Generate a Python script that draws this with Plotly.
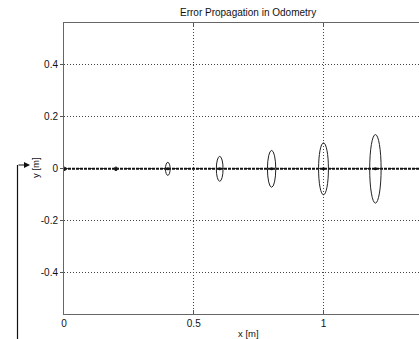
import plotly.graph_objects as go

# ---- data ----
ellipse_x = [0.0, 0.2, 0.4, 0.6, 0.8, 1.0, 1.2]          # ellipse centres (m)
ellipse_y = [0.0, 0.0, 0.0, 0.0, 0.0, 0.0, 0.0]
ellipse_sx = [0.008, 0.006, 0.009, 0.013, 0.016, 0.019, 0.022]  # semi-axis in x (m)
ellipse_sy = [0.007, 0.007, 0.025, 0.048, 0.071, 0.100, 0.132]  # semi-axis in y (m)
path_x = [0.0, 1.45]
path_y = [0.0, 0.0]
x_ticks = [0, 0.5, 1]
x_ticktext = ["0", "0.5", "1"]
y_ticks = [-0.4, -0.2, 0, 0.2, 0.4]
y_ticktext = ["-0.4", "-0.2", "0", "0.2", "0.4"]

W, H = 419, 339
L, T, B, R = 64, 23, 25, 0
pw, ph = W - L - R, H - T - B

def px(xp):  # pixel x -> paper x
    return (xp - L) / pw

def py(yp):  # pixel y -> paper y
    return (H - B - yp) / ph

fig = go.Figure()
fig.add_trace(go.Scatter(x=path_x, y=path_y, mode="lines",
                         line=dict(color="#111111", width=2, dash="3px,1px"),
                         hoverinfo="skip", showlegend=False))
fig.add_trace(go.Scatter(x=ellipse_x, y=ellipse_y, mode="markers",
                         marker=dict(color="#111111", size=3),
                         hoverinfo="skip", showlegend=False))

shapes = []
for cx, cy, sx, sy in zip(ellipse_x, ellipse_y, ellipse_sx, ellipse_sy):
    shapes.append(dict(type="circle", xref="x", yref="y",
                       x0=cx - sx, x1=cx + sx, y0=cy - sy, y1=cy + sy,
                       line=dict(color="#222222", width=1)))
# bracket line on the left
shapes.append(dict(type="line", xref="paper", yref="paper",
                   x0=px(17.5), x1=px(17.5), y0=py(165), y1=py(339),
                   line=dict(color="#111111", width=1.2)))

font = "Liberation Sans, Arial, sans-serif"
annotations = [
    dict(text="Error Propagation in Odometry", xref="paper", yref="paper",
         x=px(248), y=py(13), showarrow=False, xanchor="center", yanchor="middle",
         font=dict(size=10, color="#111111", family=font)),
    dict(text="x [m]", xref="paper", yref="paper", x=px(248), y=py(333.5),
         showarrow=False, xanchor="center", yanchor="middle",
         font=dict(size=9.5, color="#111111", family=font)),
    dict(text="y [m]", xref="paper", yref="paper", x=px(35), y=py(168),
         showarrow=False, textangle=-90, xanchor="center", yanchor="middle",
         font=dict(size=9.5, color="#111111", family=font)),
    dict(text="", xref="paper", yref="paper", x=px(30), y=py(165),
         ax=-13, ay=0, showarrow=True, arrowhead=2, arrowsize=1,
         arrowwidth=1.2, arrowcolor="#111111"),
]

fig.update_layout(
    width=W, height=H,
    margin=dict(l=L, r=R, t=T, b=B),
    paper_bgcolor="white", plot_bgcolor="white",
    shapes=shapes, annotations=annotations,
    showlegend=False,
    font=dict(family=font, size=9.5, color="#111111"),
)
fig.update_xaxes(range=[0, pw / 259.5], tickvals=x_ticks, ticktext=x_ticktext,
                 showgrid=True, gridcolor="#444444", griddash="1px,2px", gridwidth=1,
                 zeroline=False, showline=True, linecolor="#666666", linewidth=1,
                 mirror="ticks", ticks="inside", ticklen=4, tickcolor="#555555",
                 tickfont=dict(size=10, color="#111111", family=font))
fig.update_yaxes(range=[-0.559, 0.5616], tickvals=y_ticks, ticktext=y_ticktext,
                 showgrid=True, gridcolor="#444444", griddash="1px,2px", gridwidth=1,
                 zeroline=False, showline=True, linecolor="#666666", linewidth=1,
                 mirror=False, ticks="outside", ticklen=3, tickcolor="#555555",
                 tickfont=dict(size=10, color="#111111", family=font))

fig.write_html("out.html", config={"displayModeBar": False},
               post_script="document.body.style.margin='0';"
                           "document.body.style.overflow='hidden';")
